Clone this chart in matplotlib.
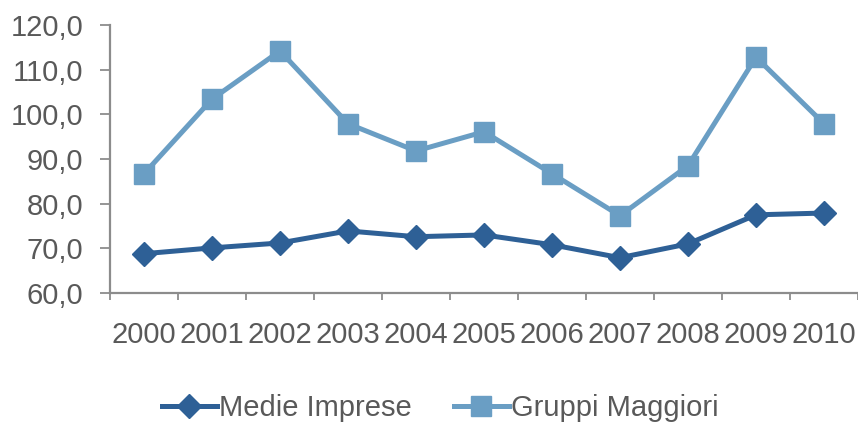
import numpy as np
import matplotlib.pyplot as plt
from matplotlib.ticker import FixedLocator, FuncFormatter

years = ['2000', '2001', '2002', '2003', '2004', '2005', '2006', '2007', '2008', '2009', '2010']
medie_imprese = [68.8, 70.1, 71.2, 73.9, 72.6, 73.0, 70.8, 67.9, 71.0, 77.5, 77.9]
gruppi_maggiori = [86.7, 103.4, 114.2, 97.9, 91.8, 96.1, 86.7, 77.3, 88.5, 112.8, 97.9]

plt.rcParams['font.family'] = ['Liberation Sans', 'DejaVu Sans']

dark = '#2E6096'
light = '#6A9EC4'
grey = '#8C8C8C'
txt = '#595959'

fig = plt.figure(figsize=(8.58, 4.24), dpi=100)
ax = fig.add_axes([110 / 858, 131 / 424, 748 / 858, 268 / 424])

x = np.arange(len(years))
ax.plot(x, medie_imprese, color=dark, lw=3.6, marker='D', ms=12,
        mec=dark, mfc=dark, label='Medie Imprese', solid_joinstyle='round')
ax.plot(x, gruppi_maggiori, color=light, lw=3.6, marker='s', ms=14,
        mec=light, mfc=light, label='Gruppi Maggiori', solid_joinstyle='round')

ax.set_xlim(-0.5, len(years) - 0.5)
ax.set_ylim(60, 120)
ax.set_yticks(np.arange(60, 121, 10))
ax.yaxis.set_major_formatter(FuncFormatter(lambda v, p: f'{v:.1f}'.replace('.', ',')))

ax.xaxis.set_major_locator(FixedLocator(np.arange(-0.5, len(years), 1.0)))
ax.xaxis.set_major_formatter(FuncFormatter(lambda v, p: ''))
ax.xaxis.set_minor_locator(FixedLocator(x))
ax.set_xticklabels(years, minor=True)
ax.tick_params(axis='x', which='minor', length=0, pad=20, labelsize=21, labelcolor=txt)
ax.tick_params(axis='x', which='major', length=5, width=1.3, color=grey, direction='out')
ax.tick_params(axis='y', length=7, width=1.3, color=grey, pad=12, labelsize=21, labelcolor=txt)

for s in ['top', 'right']:
    ax.spines[s].set_visible(False)
for s in ['left', 'bottom']:
    ax.spines[s].set_color(grey)
    ax.spines[s].set_linewidth(1.6)

leg = fig.legend(loc='center', bbox_to_anchor=(440 / 858, 1 - 408 / 424), ncol=2,
                 frameon=False, fontsize=21, handlelength=1.9, handletextpad=0.05,
                 columnspacing=1.45, labelcolor=txt)

fig.savefig('out.png', dpi=100)
